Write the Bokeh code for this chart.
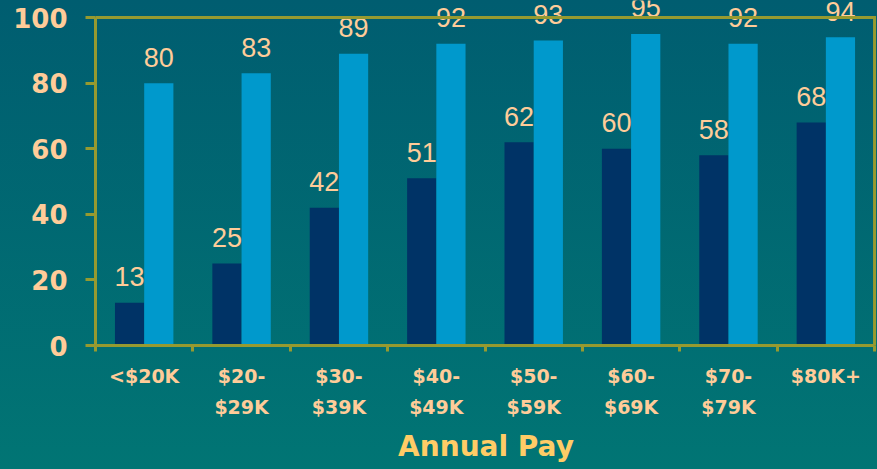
from bokeh.plotting import figure
from bokeh.models import Range1d, FixedTicker, ColumnDataSource, Title
from bokeh.core.properties import value
from bokeh.embed import file_html
from bokeh.resources import INLINE

# ---- data ----
categories = ["<$20K", "$20-\n$29K", "$30-\n$39K", "$40-\n$49K",
              "$50-\n$59K", "$60-\n$69K", "$70-\n$79K", "$80K+"]
series_dark = [13, 25, 42, 51, 62, 60, 58, 68]
series_light = [80, 83, 89, 92, 93, 95, 92, 94]
y_ticks = [0, 20, 40, 60, 80, 100]
x_title = "Annual Pay"

# ---- style ----
BG_TOP = "#005d70"
BG_BOT = "#017574"
DARK = "#003366"
LIGHT = "#0099cc"
AXIS = "#969a30"
PEACH = "#ffcc99"
TITLE = "#ffcc66"

n = len(categories)
ymax = max(y_ticks)
bar_w = 0.30
centers = [i + 0.5 for i in range(n)]

src = ColumnDataSource(dict(
    xd=[c - bar_w / 2 for c in centers],
    xl=[c + bar_w / 2 for c in centers],
    dark=series_dark,
    light=series_light,
    tdark=[str(v) for v in series_dark],
    tlight=[str(v) for v in series_light],
))

p = figure(width=877, height=469, output_backend="svg", toolbar_location=None,
           x_range=Range1d(0, n + 0.02), y_range=Range1d(0, 105.2),
           min_border_left=95, min_border_right=1, min_border_top=0,
           min_border_bottom=123,
           background_fill_color=None, border_fill_color=None,
           outline_line_color=None,
           styles={"background": f"linear-gradient(to bottom, {BG_TOP}, {BG_BOT})"})
p.grid.visible = False

p.vbar(x="xd", top="dark", width=bar_w, bottom=0, source=src,
       fill_color=DARK, line_color=None)
p.vbar(x="xl", top="light", width=bar_w, bottom=0, source=src,
       fill_color=LIGHT, line_color=None)

for xcol, tcol, ycol in (("xd", "tdark", "dark"), ("xl", "tlight", "light")):
    p.text(x=xcol, y=ycol, text=tcol, source=src, y_offset=-26,
           text_align="center", text_baseline="alphabetic",
           text_font=value("Liberation Sans"), text_font_size="27px",
           text_color=PEACH)

# frame lines: top at ymax and right at last category boundary
p.segment(x0=[0, n], y0=[ymax, 0], x1=[n, n], y1=[ymax, ymax],
          line_color=AXIS, line_width=3, line_cap="square")

# y axis
ya = p.yaxis[0]
ya.ticker = FixedTicker(ticks=y_ticks)
ya.bounds = (0, ymax)
ya.axis_line_color = AXIS
ya.axis_line_width = 3
ya.major_tick_line_color = AXIS
ya.major_tick_line_width = 3
ya.major_tick_out = 10
ya.major_tick_in = 0
ya.minor_tick_line_color = None
ya.major_label_standoff = 18
ya.major_label_text_font = "DejaVu Sans"
ya.major_label_text_font_style = "bold"
ya.major_label_text_font_size = "26px"
ya.major_label_text_color = PEACH

# x axis
xa = p.xaxis[0]
xa.ticker = FixedTicker(ticks=centers, minor_ticks=list(range(n + 1)))
xa.major_label_overrides = {c: lab for c, lab in zip(centers, categories)}
xa.bounds = (0, n)
xa.axis_line_color = AXIS
xa.axis_line_width = 3
xa.major_tick_line_color = None
xa.major_tick_out = 6
xa.major_tick_in = 0
xa.minor_tick_line_color = AXIS
xa.minor_tick_line_width = 3
xa.minor_tick_out = 6
xa.minor_tick_in = 0
xa.major_label_standoff = 13
xa.major_label_text_font = "DejaVu Sans"
xa.major_label_text_font_style = "bold"
xa.major_label_text_font_size = "19px"
xa.major_label_text_color = PEACH
xa.major_label_text_line_height = 1.45

# axis title below the tick labels
p.add_layout(Title(text=x_title, align="center", standoff=13,
                   text_line_height=0.8,
                   text_font="DejaVu Sans", text_font_style="bold",
                   text_font_size="28px", text_color=TITLE), "below")

open("out.html", "w").write(file_html(p, INLINE))
